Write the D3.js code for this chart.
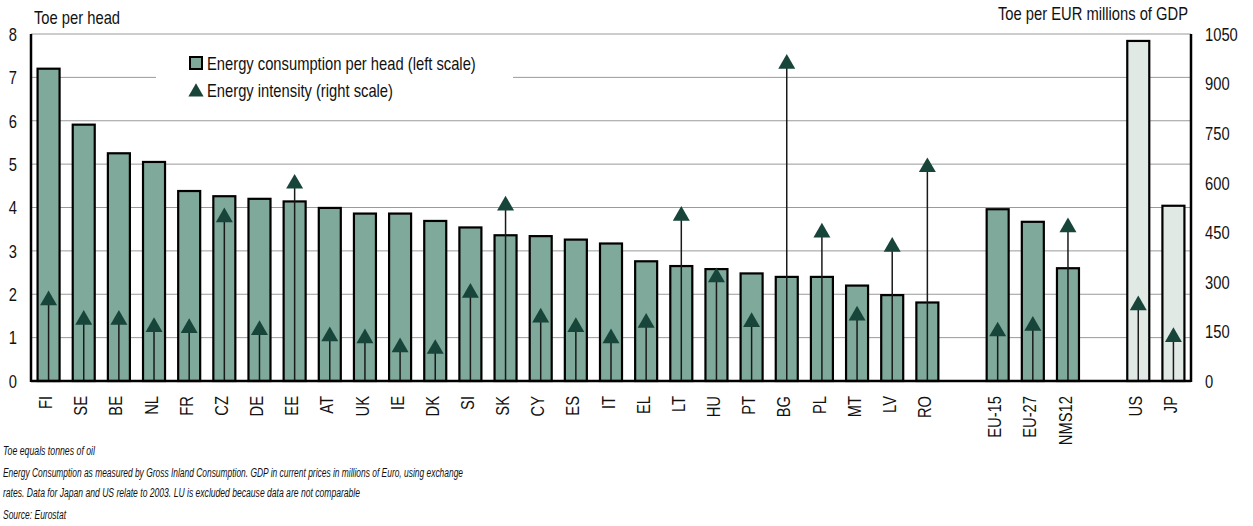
<!DOCTYPE html>
<html>
<head>
<meta charset="utf-8">
<script src="https://cdn.jsdelivr.net/npm/d3@7"></script>
<style>
  body { margin: 0; background: #fff; }
  svg { display: block; }
  text { font-family: "Liberation Sans", Arial, sans-serif; fill: #111; }
</style>
</head>
<body>
<svg id="chart" width="1253" height="526"></svg>
<script>
// values
const categories = ["FI", "SE", "BE", "NL", "FR", "CZ", "DE", "EE", "AT", "UK", "IE", "DK", "SI", "SK", "CY", "ES", "IT", "EL", "LT", "HU", "PT", "BG", "PL", "MT", "LV", "RO", "EU-15", "EU-27", "NMS12", "US", "JP"];
const perHead = [7.20, 5.91, 5.25, 5.05, 4.38, 4.26, 4.20, 4.14, 3.99, 3.86, 3.86, 3.69, 3.54, 3.36, 3.34, 3.26, 3.17, 2.76, 2.65, 2.58, 2.48, 2.40, 2.40, 2.20, 1.98, 1.81, 3.96, 3.67, 2.60, 7.84, 4.04];
const intensity = [247, 188, 188, 166, 163, 498, 157, 600, 138, 132, 105, 100, 270, 534, 195, 166, 132, 179, 503, 317, 181, 963, 452, 201, 409, 650, 153, 170, 468, 232, 136];
const gapAfter = ["RO", "NMS12"];
const lightBars = ["US", "JP"];
const leftTicks = [0, 1, 2, 3, 4, 5, 6, 7, 8];
const rightTicks = [0, 150, 300, 450, 600, 750, 900, 1050];
const legendLabels = ["Energy consumption per head (left scale)", "Energy intensity (right scale)"];
const footnotes = [
  "Toe equals tonnes of oil",
  "Energy Consumption as measured by Gross Inland Consumption. GDP in current prices in millions of Euro, using exchange",
  "rates. Data for Japan and US relate to 2003. LU is excluded because data are not comparable",
  "Source: Eurostat"
];

const svg = d3.select("#chart");
const plotL = 31, plotR = 1191, plotT = 34, plotB = 381;
const FS = 18;     // original uses a narrow face; no narrow font here,
const SX = 0.82;   // so squeeze the regular one horizontally

// slots incl. empty gaps between the groups
const slots = [];
categories.forEach(c => {
  slots.push(c);
  if (gapAfter.includes(c)) slots.push("gap-" + c);
});

const x = d3.scaleBand().domain(slots).range([plotL, plotR])
  .paddingInner(0.374).paddingOuter(0.187);
const yL = d3.scaleLinear().domain([0, 8]).range([plotB, plotT]);
const yR = d3.scaleLinear().domain([0, 1050]).range([plotB, plotT]);

const data = categories.map((c, i) => ({ cat: c, head: perHead[i], inten: intensity[i] }));

// gridlines
svg.append("g").selectAll("line").data(leftTicks.slice(1)).join("line")
  .attr("x1", plotL).attr("x2", plotR)
  .attr("y1", d => yL(d)).attr("y2", d => yL(d))
  .attr("stroke", "#9a9a9a").attr("stroke-width", 1);

// legend box hides part of the grid
svg.append("rect").attr("x", 156).attr("y", 42).attr("width", 357).attr("height", 66).attr("fill", "#fff");

// bars
svg.append("g").selectAll("rect").data(data).join("rect")
  .attr("x", d => x(d.cat))
  .attr("width", x.bandwidth())
  .attr("y", d => yL(d.head))
  .attr("height", d => yL(0) - yL(d.head))
  .attr("fill", d => lightBars.includes(d.cat) ? "#e1e9e5" : "#7fa99b")
  .attr("stroke", "#000").attr("stroke-width", 2.2);

// drop lines + triangles for intensity
const tri = d3.symbol().type(d3.symbolTriangle).size(125);
svg.append("g").selectAll("line").data(data).join("line")
  .attr("x1", d => x(d.cat) + x.bandwidth() / 2)
  .attr("x2", d => x(d.cat) + x.bandwidth() / 2)
  .attr("y1", yR(0)).attr("y2", d => yR(d.inten))
  .attr("stroke", "#1a1a1a").attr("stroke-width", 1.5);
svg.append("g").selectAll("path").data(data).join("path")
  .attr("d", tri)
  .attr("transform", d => `translate(${x(d.cat) + x.bandwidth() / 2},${yR(d.inten) + 1})`)
  .attr("fill", "#17453a");

// axes: tick labels only
const axL = svg.append("g").attr("transform", `translate(${plotL},0)`)
  .call(d3.axisLeft(yL).tickValues(leftTicks).tickSize(0));
const axR = svg.append("g").attr("transform", `translate(${plotR},0)`)
  .call(d3.axisRight(yR).tickValues(rightTicks).tickFormat(d3.format("d")).tickSize(0));
axL.selectAll("text").attr("x", null).attr("transform", `translate(-14,0) scale(${SX},1)`);
axR.selectAll("text").attr("x", null).attr("transform", `translate(14,0) scale(${SX},1)`);
[axL, axR].forEach(a => {
  a.select(".domain").remove();
  a.selectAll("text").attr("font-size", FS).attr("font-family", null).attr("dy", "0.35em");
});

const axX = svg.append("g").attr("transform", `translate(0,${plotB})`)
  .call(d3.axisBottom(x).tickValues(categories).tickSize(0));
axX.select(".domain").remove();
axX.selectAll("text")
  .attr("font-size", FS).attr("font-family", null)
  .attr("x", null).attr("y", null)
  .attr("transform", `rotate(-90) translate(-15,0) scale(${SX},1)`)
  .attr("text-anchor", "end")
  .attr("dy", "0.2em");

// axis lines
svg.append("line").attr("x1", plotL).attr("x2", plotL).attr("y1", plotT).attr("y2", plotB + 1)
  .attr("stroke", "#000").attr("stroke-width", 2.5);
svg.append("line").attr("x1", plotR).attr("x2", plotR).attr("y1", plotT).attr("y2", plotB + 1)
  .attr("stroke", "#000").attr("stroke-width", 2.5);
svg.append("line").attr("x1", plotL).attr("x2", plotR).attr("y1", plotB).attr("y2", plotB)
  .attr("stroke", "#000").attr("stroke-width", 2.5);

// axis titles
svg.append("text").attr("transform", `translate(34,24) scale(${SX},1)`)
  .attr("font-size", FS).text("Toe per head");
svg.append("text").attr("transform", `translate(1188,20) scale(${SX},1)`)
  .attr("font-size", FS).attr("text-anchor", "end").text("Toe per EUR millions of GDP");

// legend
const lg = svg.append("g");
lg.append("rect").attr("x", 190).attr("y", 57).attr("width", 12).attr("height", 12)
  .attr("fill", "#7fa99b").attr("stroke", "#000").attr("stroke-width", 2);
lg.append("path").attr("d", d3.symbol().type(d3.symbolTriangle).size(100))
  .attr("transform", "translate(196,92)").attr("fill", "#17453a");
lg.selectAll("text").data(legendLabels).join("text")
  .attr("transform", (d, i) => `translate(207,${70 + i * 27}) scale(${SX},1)`)
  .attr("font-size", FS).text(d => d);

// footnotes
const noteY = [455, 476.5, 496.5, 519];
const noteW = [92, 460, 357, 63];
svg.append("g").selectAll("text").data(footnotes).join("text")
  .attr("x", 3).attr("y", (d, i) => noteY[i])
  .attr("font-size", 12.5).attr("font-style", "italic")
  .attr("textLength", (d, i) => noteW[i]).attr("lengthAdjust", "spacingAndGlyphs")
  .text(d => d);
</script>
</body>
</html>
